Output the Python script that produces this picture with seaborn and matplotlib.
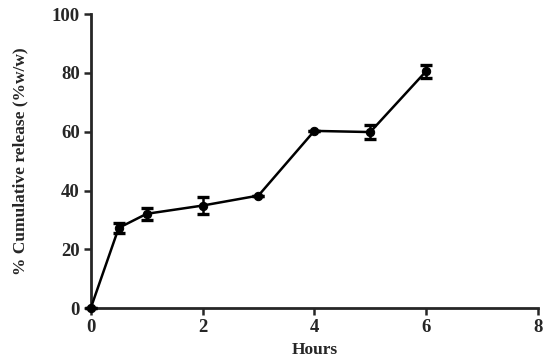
import numpy as np
import pandas as pd
import matplotlib
matplotlib.use("Agg")
import matplotlib.pyplot as plt
import seaborn as sns

## cumulative release over time (mean +/- sd)
hours = [0, 0.5, 1, 2, 3, 4, 5, 6]
release = [0, 27.3, 32.1, 34.9, 38.3, 60.3, 59.9, 80.6]
sd = [0, 1.8, 2.0, 3.0, 0.0, 0.0, 2.4, 2.2]

df = pd.DataFrame({'Hours': hours, 'release': release, 'sd': sd})

sns.set_style('ticks')
plt.rcParams['font.family'] = ['Liberation Serif', 'DejaVu Serif']
plt.rcParams['font.weight'] = 'bold'

fig = plt.figure(figsize=(5.5, 3.63), dpi=100)
ax = fig.add_axes([0.165, 0.151, 0.813, 0.81])

ax.errorbar(df['Hours'], df['release'], yerr=df['sd'], fmt='none',
            ecolor='black', elinewidth=1.8, capsize=4, capthick=2.4, zorder=3)
sns.lineplot(x='Hours', y='release', data=df, color='black', linewidth=1.8,
             marker='o', markersize=6, markeredgecolor='black', ax=ax, zorder=4)

ax.set_xlim(0, 8)
ax.set_ylim(0, 100)
ax.set_xticks([0, 2, 4, 6, 8])
ax.set_yticks([0, 20, 40, 60, 80, 100])
ax.set_xlabel('Hours', fontsize=12.5, fontweight='bold', labelpad=4)
ax.set_ylabel('% Cumulative release (%w/w)', fontsize=12.5, fontweight='bold', labelpad=17)
ax.tick_params(axis='both', labelsize=13.5, width=1.8, length=5, direction='out', pad=3)
for lab in ax.get_xticklabels() + ax.get_yticklabels():
    lab.set_fontweight('bold')

sns.despine(ax=ax)
for side in ['left', 'bottom']:
    ax.spines[side].set_linewidth(2)
for c in ax.get_children():
    try:
        c.set_clip_on(False)
    except Exception:
        pass

fig.savefig('out.png', dpi=100)
